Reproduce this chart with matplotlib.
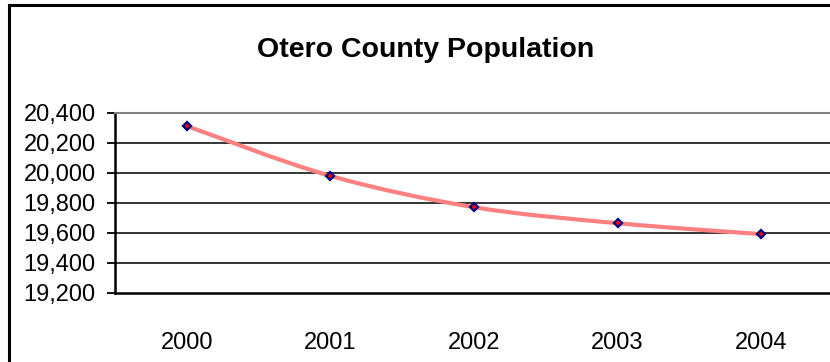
import matplotlib
matplotlib.use("Agg")
import matplotlib.pyplot as plt
from matplotlib.path import Path
from matplotlib.patches import PathPatch, Rectangle
from matplotlib.ticker import FuncFormatter
import numpy as np

plt.rcParams['font.family'] = ['Liberation Sans', 'DejaVu Sans']

years = ['2000', '2001', '2002', '2003', '2004']
population = [20313, 19980, 19771, 19664, 19591]
y_ticks = [19200, 19400, 19600, 19800, 20000, 20200, 20400]

fig = plt.figure(figsize=(8.3, 3.62), dpi=100)

# chart frame (runs past the right/bottom edge)
fig.patches.append(Rectangle((9 / 830, -0.2), 1.2, 1.2 - 5 / 362,
                             transform=fig.transFigure, fill=False,
                             edgecolor='black', linewidth=2.2))

fig.text(426 / 830, 1 - 57.3 / 362, 'Otero County Population',
         ha='center', va='baseline', fontsize=20.5, fontweight='bold')

ax = fig.add_axes([115 / 830, 69.3 / 362, 718 / 830, 179.7 / 362])

x = np.arange(len(years))
y = np.array(population, dtype=float)

# smoothed line: catmull-rom segments converted to cubic beziers
verts = [(x[0], y[0])]
codes = [Path.MOVETO]
for i in range(len(x) - 1):
    p0 = np.array([x[max(i - 1, 0)], y[max(i - 1, 0)]])
    p1 = np.array([x[i], y[i]])
    p2 = np.array([x[i + 1], y[i + 1]])
    p3 = np.array([x[min(i + 2, len(x) - 1)], y[min(i + 2, len(x) - 1)]])
    c1 = p1 + (p2 - p0) / 6
    c2 = p2 - (p3 - p1) / 6
    verts += [tuple(c1), tuple(c2), tuple(p2)]
    codes += [Path.CURVE4] * 3
ax.add_patch(PathPatch(Path(verts, codes), facecolor='none',
                       edgecolor='#ff8080', linewidth=3, zorder=3))

ax.plot(x, y, linestyle='none', marker='D', markersize=4.5,
        markerfacecolor='#ff0000', markeredgecolor='#000080',
        markeredgewidth=1.6, zorder=4)

ax.set_xlim(-0.5, len(years) - 0.5)
ax.set_ylim(19200, 20400)
ax.set_xticks(x)
ax.set_xticklabels(years)
ax.set_yticks(y_ticks)
ax.yaxis.set_major_formatter(FuncFormatter(lambda v, p: f'{int(v):,}'))
ax.tick_params(axis='x', length=0, pad=28, labelsize=17)
ax.tick_params(axis='y', length=6, width=1.3, pad=8, labelsize=17)

for v in y_ticks[1:-1]:
    ax.axhline(v, color='black', linewidth=1.1, zorder=1)

for side in ['left', 'bottom']:
    ax.spines[side].set_linewidth(1.8)
ax.spines['top'].set_color('#808080')
ax.spines['top'].set_linewidth(1.5)
ax.spines['right'].set_visible(False)

fig.savefig('out.png', dpi=100)
